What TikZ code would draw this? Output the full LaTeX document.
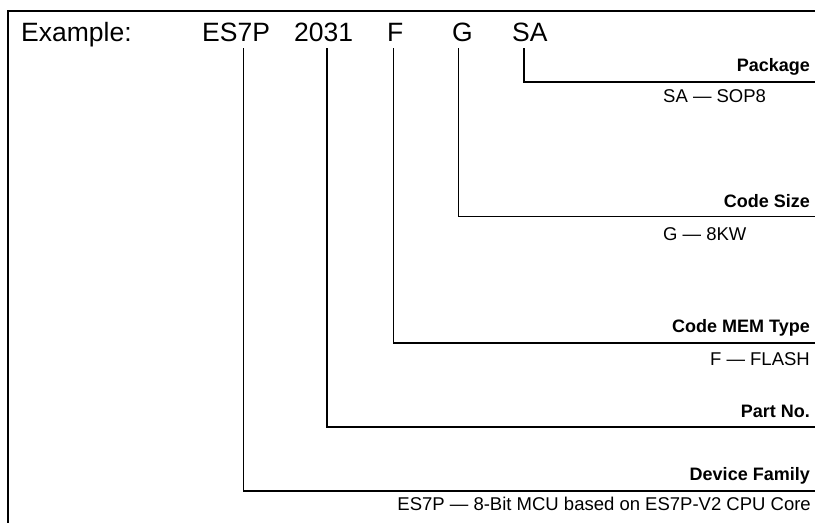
\documentclass[tikz,border=0pt]{standalone}
\usepackage{fontspec}
\setmainfont{Liberation Sans}
\begin{document}
\begin{tikzpicture}[x=1pt,y=-1pt,
  code/.style={anchor=base west, inner sep=0pt, font=\fontsize{26.5}{30}\selectfont},
  lbl/.style={anchor=base east, inner sep=0pt, font=\fontsize{18}{21}\selectfont\bfseries},
  desc/.style={anchor=base west, inner sep=0pt, font=\fontsize{18.5}{21}\selectfont},
  descr/.style={anchor=base east, inner sep=0pt, font=\fontsize{18.5}{21}\selectfont},
  conn/.style={line width=1.2pt},
  frame/.style={line width=2.2pt}]
\useasboundingbox (0,0) rectangle (815,523);
% frame
\coordinate (fr-tr) at (815,11);
\coordinate (fr-tl) at (8.3,11);
\coordinate (fr-bl) at (8.3,523);
\draw[frame] (fr-tr) -- (fr-tl) -- (fr-bl);
% example code
\node[code] (ex) at (21,41) {Example:};
\node[code] (fam) at (202,41) {ES7P};
\node[code] (part) at (294,41) {2031};
\node[code] (mem) at (387,41) {F};
\node[code] (size) at (452,41) {G};
\node[code] (pkg) at (512,41) {SA};
% labels
\node[lbl] (pkg-l) at (810,71) {Package};
\node[desc] (pkg-d) at (663,102) {SA — SOP8};
\node[lbl] (size-l) at (810,207) {Code Size};
\node[desc] (size-d) at (663,240) {G — 8KW};
\node[lbl] (mem-l) at (810,332) {Code MEM Type};
\node[descr] (mem-d) at (810,365) {F — FLASH};
\node[lbl] (part-l) at (810,417) {Part No.};
\node[lbl] (fam-l) at (810,480) {Device Family};
\node[descr] (fam-d) at (811,510) {ES7P — 8-Bit MCU based on ES7P-V2 CPU Core};
% connector points
\coordinate (pkg-t) at (524,48);   \coordinate (pkg-e) at (815,82);
\coordinate (size-t) at (458.5,48); \coordinate (size-e) at (815,216.5);
\coordinate (mem-t) at (393.5,48);  \coordinate (mem-e) at (815,343);
\coordinate (part-t) at (327,48);   \coordinate (part-e) at (815,427);
\coordinate (fam-t) at (243.5,48);  \coordinate (fam-e) at (815,491);
\draw[conn] (pkg-t) |- (pkg-e);
\draw[conn] (size-t) |- (size-e);
\draw[conn] (mem-t) |- (mem-e);
\draw[conn] (part-t) |- (part-e);
\draw[conn] (fam-t) |- (fam-e);
\end{tikzpicture}
\end{document}
